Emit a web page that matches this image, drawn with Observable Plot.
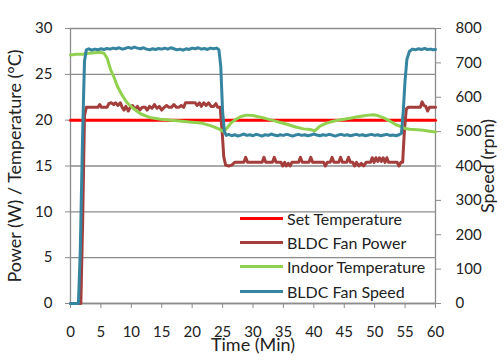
<!DOCTYPE html>
<html>
<head>
<meta charset="utf-8">
<script src="https://cdn.jsdelivr.net/npm/d3@7"></script>
<script src="https://cdn.jsdelivr.net/npm/@observablehq/plot@0.6"></script>
<style>
  html, body { margin: 0; padding: 0; background: #fff; }
  #chart { position: relative; width: 504px; height: 360px; font-family: Lato, "Open Sans", sans-serif; color: #222; }
  #legend { position: absolute; left: 240px; top: 206px; font-size: 16px; }
  #legend .row { display: flex; align-items: center; height: 24.4px; }
  #legend .sw { width: 43px; height: 3px; margin-right: 4px; }
</style>
</head>
<body>
<div id="chart"></div>
<script>
// ---- data ----
const timeTicks = [0, 5, 10, 15, 20, 25, 30, 35, 40, 45, 50, 55, 60];
const leftTicks = [0, 5, 10, 15, 20, 25, 30];
const rightTicks = [0, 100, 200, 300, 400, 500, 600, 700, 800];

const seriesNames = ["Set Temperature", "BLDC Fan Power", "Indoor Temperature", "BLDC Fan Speed"];
const seriesColors = ["#ff0000", "#a33e3c", "#92d050", "#3585a0"];

// Set temperature (°C) [time, value]
const setTemperature = [[0, 20], [60, 20]];

// BLDC fan power (W) [time, value]
const fanPower = [[0,0],[1.7,0],[2.0,9],[2.3,20.5],[2.6,21.4],[3,21.4],[3.5,21.4],[4,21.4],[4.5,21.4],[4.8,21.7],[5.1,21.4],[5.5,21.4],[6,21.4],[6.3,21.8],[6.7,21.9],[7.1,21.7],[7.4,21.9],[7.8,21.6],[8.2,21.9],[8.5,21.4],[8.8,21.1],[9.1,21.5],[9.5,21.0],[9.8,21.4],[10.2,21.6],[10.6,21.2],[11,21.5],[11.4,21.1],[11.8,21.4],[12.3,21.4],[12.6,21.1],[13,21.5],[13.4,21.3],[13.8,21.7],[14.2,21.3],[14.6,21.5],[15,21.1],[15.4,21.4],[15.8,21.6],[16.2,21.4],[16.6,21.4],[17,21.7],[17.4,21.4],[17.8,21.4],[18.2,21.6],[18.6,21.4],[18.9,21.9],[19.5,21.9],[20,21.9],[20.5,21.9],[20.8,21.6],[21.2,21.9],[21.5,21.5],[21.9,21.9],[22.3,21.6],[22.7,21.9],[23.1,21.5],[23.5,21.5],[23.9,21.8],[24.2,21.4],[24.6,21.4],[24.9,19],[25.2,16],[25.5,15.1],[26,15.0],[26.5,15.1],[27,15.4],[27.5,15.4],[28,15.4],[28.5,15.4],[28.8,15.95],[29.1,15.4],[30,15.4],[31,15.4],[31.5,15.4],[31.8,15.95],[32.1,15.4],[33.2,15.4],[33.5,15.95],[33.8,15.4],[34.6,15.4],[34.9,15.0],[35.2,15.4],[35.5,15.0],[35.8,15.3],[36.1,15.0],[36.4,15.4],[37.5,15.4],[37.8,15.95],[38.1,15.4],[39.2,15.4],[39.5,15.95],[39.8,15.4],[41.6,15.4],[41.9,15.0],[42.2,15.4],[42.7,15.4],[43,15.95],[43.3,15.4],[44.1,15.4],[44.4,15.95],[44.7,15.4],[45.4,15.4],[45.7,15.95],[46,15.4],[46.4,15.4],[46.7,15.0],[47,15.4],[47.4,15.0],[47.8,15.3],[48.2,15.0],[48.6,15.4],[49.3,15.4],[49.6,15.9],[49.9,15.4],[50.2,15.9],[50.5,15.5],[50.8,15.9],[51.1,15.5],[51.4,15.9],[51.7,15.4],[52,15.9],[52.3,15.4],[53.7,15.4],[54,15.0],[54.3,15.4],[54.6,15.4],[54.9,19],[55.2,21.2],[55.5,21.4],[56,21.4],[56.5,21.4],[57,21.4],[57.5,21.4],[57.8,22.0],[58.1,21.6],[58.4,21.5],[58.7,21.0],[59,21.4],[59.5,21.4],[60,21.4]];

// Indoor temperature (°C) [time, value]
const indoorTemperature = [[0,27.1],[1,27.2],[2,27.2],[3,27.3],[4,27.35],[5,27.4],[5.5,27.3],[6,26.8],[6.6,25.5],[7.2,24.6],[7.7,23.7],[8.5,22.7],[9.3,21.9],[10.3,21.3],[11.5,20.7],[13,20.3],[14.8,20.1],[16.5,20.0],[18,19.9],[19.5,19.8],[21.4,19.7],[23,19.4],[24.2,19.1],[25.2,18.75],[25.8,19.2],[26.4,19.7],[27.2,20.1],[28,20.4],[29,20.55],[30,20.5],[31,20.35],[32,20.2],[33.4,19.95],[34.5,19.75],[35.6,19.55],[37,19.25],[38.3,19.05],[39.2,19.0],[40.2,18.85],[41,19.35],[42,19.65],[43,19.85],[44,20.0],[45,20.1],[46,20.2],[47,20.35],[48,20.45],[49,20.55],[49.8,20.6],[50.5,20.5],[51.5,20.25],[52.5,19.9],[53.5,19.5],[54.3,19.3],[55,19.1],[55.8,19.0],[57,18.95],[58,18.9],[59,18.8],[60,18.7]];

// BLDC fan speed (rpm) [time, value]
const fanSpeed = [[0,0],[1.3,0],[1.6,150],[2.0,500],[2.3,705],[2.6,738],[3,741],[3.5,737],[4,740],[4.5,738],[5,741],[5.5,739],[6,742],[6.5,740],[7,743],[7.5,741],[8,744],[8.5,740],[9,742],[9.5,745],[10,742],[10.5,746],[11,743],[11.5,741],[12,744],[12.5,740],[13,738],[13.5,741],[14,739],[14.5,742],[15,740],[15.5,743],[16,740],[16.5,744],[17,741],[17.5,738],[18,740],[18.5,737],[19,741],[19.5,739],[20,743],[20.5,741],[21,744],[21.5,740],[22,742],[22.5,739],[23,743],[23.5,741],[24,743],[24.4,738],[24.7,690],[25.0,560],[25.3,500],[25.6,489],[26,492],[26.5,488],[27,491],[27.5,487],[28,490],[28.5,493],[29,489],[29.5,491],[30,488],[30.5,492],[31,490],[31.5,487],[32,491],[32.5,489],[33,493],[33.5,490],[34,488],[34.5,491],[35,489],[35.5,492],[36,490],[36.5,487],[37,490],[37.5,492],[38,489],[38.5,491],[39,488],[39.5,490],[40,493],[40.5,490],[41,488],[41.5,491],[42,489],[42.5,492],[43,490],[43.5,487],[44,490],[44.5,492],[45,489],[45.5,491],[46,488],[46.5,490],[47,492],[47.5,489],[48,491],[48.5,488],[49,490],[49.5,492],[50,489],[50.5,491],[51,488],[51.5,490],[52,492],[52.5,489],[53,490],[53.5,488],[54,491],[54.4,495],[54.7,560],[55.0,650],[55.3,710],[55.7,733],[56.2,740],[56.7,738],[57.2,741],[57.7,739],[58.2,742],[58.7,739],[59.2,740],[59.6,738],[60,739]];

// ---- chart ----
const leftMax = 30, rightMax = 800;
const toLeft = r => r * leftMax / rightMax;
const axisGray = "#8c8c8c";

const chart = Plot.plot({
  width: 504,
  height: 360,
  marginLeft: 70,
  marginRight: 69,
  marginTop: 28,
  marginBottom: 57,
  style: { fontFamily: "Lato, 'Open Sans', sans-serif", background: "white", color: "#222" },
  x: { domain: [0, 60] },
  y: { domain: [0, leftMax] },
  marks: [
    Plot.gridY(leftTicks, { stroke: axisGray, strokeOpacity: 1, strokeWidth: 1.3 }),
    Plot.ruleX([0, 60], { stroke: axisGray, strokeWidth: 1.3 }),
    Plot.ruleY([0], { stroke: axisGray, strokeWidth: 1.3 }),
    Plot.axisY(leftTicks, { anchor: "left", tickSize: 5, tickPadding: 13, fontSize: 15, stroke: axisGray, label: null }),
    Plot.axisY(rightTicks.map(toLeft), { anchor: "right", tickSize: 5, tickPadding: 15, fontSize: 15, stroke: axisGray, label: null,
      tickFormat: v => String(Math.round(v * rightMax / leftMax)) }),
    Plot.axisX(timeTicks, { anchor: "bottom", tickSize: 5, tickPadding: 18, fontSize: 15, stroke: axisGray, label: null }),
    Plot.line(setTemperature, { x: d => d[0], y: d => d[1], stroke: seriesColors[0], strokeWidth: 3 }),
    Plot.line(fanPower, { x: d => d[0], y: d => d[1], stroke: seriesColors[1], strokeWidth: 3 }),
    Plot.line(indoorTemperature, { x: d => d[0], y: d => d[1], stroke: seriesColors[2], strokeWidth: 3 }),
    Plot.line(fanSpeed, { x: d => d[0], y: d => toLeft(d[1]), stroke: seriesColors[3], strokeWidth: 3 }),
    Plot.text(["Power (W) / Temperature (°C)"], { text: d => d, frameAnchor: "left", textAnchor: "middle", dx: -55, rotate: -90, fontSize: 18 }),
    Plot.text(["Speed (rpm)"], { text: d => d, frameAnchor: "right", textAnchor: "middle", dx: 53, rotate: -90, fontSize: 18 }),
    Plot.text(["Time (Min)"], { text: d => d, frameAnchor: "bottom", dy: 47, fontSize: 18 })
  ]
});

const root = document.getElementById("chart");
root.appendChild(chart);

const legend = document.createElement("div");
legend.id = "legend";
seriesNames.forEach((name, i) => {
  const row = document.createElement("div");
  row.className = "row";
  const sw = document.createElement("div");
  sw.className = "sw";
  sw.style.background = seriesColors[i];
  const label = document.createElement("span");
  label.textContent = name;
  row.appendChild(sw);
  row.appendChild(label);
  legend.appendChild(row);
});
root.appendChild(legend);
</script>
</body>
</html>
